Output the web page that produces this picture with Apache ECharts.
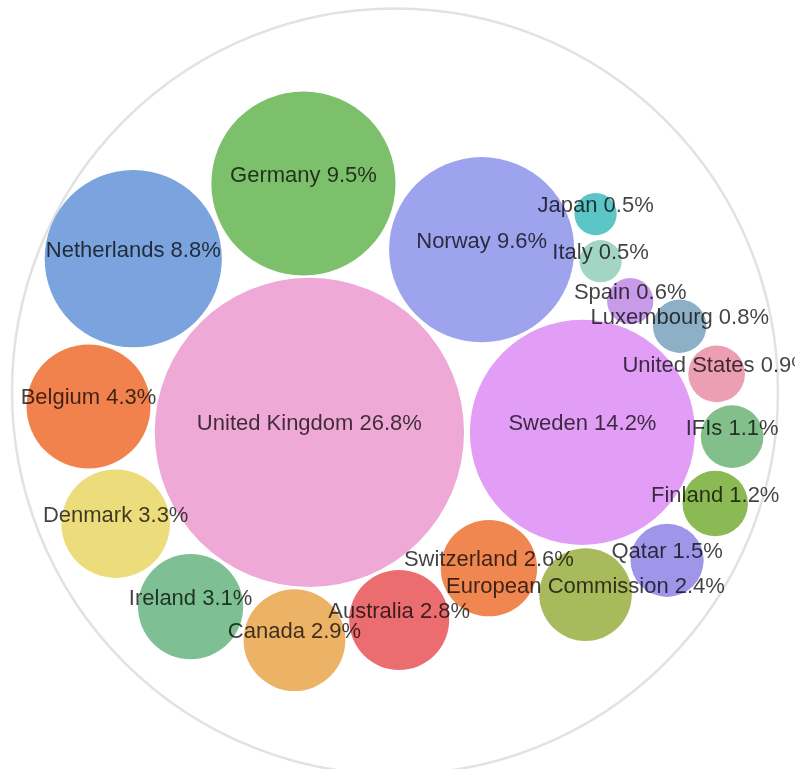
<!DOCTYPE html>
<html>
<head>
<meta charset="utf-8">
<title>Packed bubbles</title>
<script src="https://cdn.jsdelivr.net/npm/echarts@6/dist/echarts.min.js"></script>
<style>
  html, body { margin: 0; padding: 0; background: #fff; }
  #chart { width: 795px; height: 769px; }
</style>
</head>
<body>
<div id="chart"></div>
<script>
// shares in %, already in descending order (pack order)
var countries = ['United Kingdom', 'Sweden', 'Norway', 'Germany', 'Netherlands', 'Belgium',
  'Denmark', 'Ireland', 'Canada', 'Australia', 'Switzerland', 'European Commission',
  'Qatar', 'Finland', 'IFIs', 'United States', 'Luxembourg', 'Spain', 'Italy', 'Japan'];
var shares = [26.8, 14.2, 9.6, 9.5, 8.8, 4.3, 3.3, 3.1, 2.9, 2.8, 2.6, 2.4,
  1.5, 1.2, 1.1, 0.9, 0.8, 0.6, 0.5, 0.5];

var palette = ['#efa9d6', '#e29ef6', '#9da3ec', '#7dc06b', '#7ba3de', '#f2824d',
  '#ecdc7b', '#7ebf93', '#ecb266', '#ec6d70', '#f08650', '#a9ba5c',
  '#9f96ea', '#8bb953', '#82bf8b', '#ec9fb2', '#8eb0c6', '#c79be8', '#a3d5c5', '#5cc5c6'];

// layout box of the enclosing circle (px)
var CX = 395, CY = 397, RPX = 383;
var PADDING = 6;

// ---- old d3 (v3) front-chain circle packing ----
function place(a, b, c) {
  var db = a.r + c.r, dx = b.x - a.x, dy = b.y - a.y;
  if (db && (dx || dy)) {
    var da = b.r + c.r, dc = dx * dx + dy * dy;
    da *= da;
    db *= db;
    var x = 0.5 + (db - da) / (2 * dc);
    var t = 2 * da * (db + dc) - (db - dc) * (db - dc) - da * da;
    var y = Math.sqrt(Math.max(0, t)) / (2 * dc);
    c.x = a.x + x * dx + y * dy;
    c.y = a.y + x * dy - y * dx;
  } else {
    c.x = a.x + db;
    c.y = a.y;
  }
}
function intersects(a, b) {
  var dx = b.x - a.x, dy = b.y - a.y, dr = a.r + b.r;
  return 0.999 * dr * dr > dx * dx + dy * dy;
}
function insert(a, b) {
  var c = a.next;
  a.next = b; b.prev = a; b.next = c; c.prev = b;
}
function splice(a, b) { a.next = b; b.prev = a; }

function packSiblings(nodes) {
  var xMin = Infinity, xMax = -Infinity, yMin = Infinity, yMax = -Infinity;
  function bound(n) {
    xMin = Math.min(n.x - n.r, xMin); xMax = Math.max(n.x + n.r, xMax);
    yMin = Math.min(n.y - n.r, yMin); yMax = Math.max(n.y + n.r, yMax);
  }
  nodes.forEach(function (n) { n.next = n.prev = n; });
  var n = nodes.length, a, b, c, i, j, k;
  a = nodes[0]; a.x = -a.r; a.y = 0; bound(a);
  if (n > 1) {
    b = nodes[1]; b.x = b.r; b.y = 0; bound(b);
    if (n > 2) {
      c = nodes[2];
      place(a, b, c); bound(c);
      insert(a, c); a.prev = c; insert(c, b);
      b = a.next;
      for (i = 3; i < n; i++) {
        place(a, b, c = nodes[i]);
        var isect = 0, s1 = 1, s2 = 1;
        for (j = b.next; j !== b; j = j.next, s1++) {
          if (intersects(j, c)) { isect = 1; break; }
        }
        if (isect == 1) {
          for (k = a.prev; k !== j.prev; k = k.prev, s2++) {
            if (intersects(k, c)) break;
          }
        }
        if (isect) {
          if (s1 < s2 || (s1 == s2 && b.r < a.r)) splice(a, b = j);
          else splice(a = k, b);
          i--;
        } else {
          insert(a, c); b = c; bound(c);
        }
      }
    }
  }
  var cx = (xMin + xMax) / 2, cy = (yMin + yMax) / 2, cr = 0;
  nodes.forEach(function (d) {
    d.x -= cx; d.y -= cy;
    cr = Math.max(cr, d.r + Math.sqrt(d.x * d.x + d.y * d.y));
  });
  return cr;
}

var radii = shares.map(Math.sqrt);
var nodes = radii.map(function (r) { return { r: r }; });
var r0 = packSiblings(nodes);
var dr = PADDING * (2 * r0 / (2 * RPX)) / 2;
nodes = radii.map(function (r) { return { r: r + dr }; });
var rootR = packSiblings(nodes) - dr;
nodes.forEach(function (d) { d.r -= dr; });

var bubbleData = nodes.map(function (d, i) {
  return {
    name: countries[i],
    value: [d.x, d.y, d.r, shares[i]],
    itemStyle: { color: palette[i] }
  };
});

var chart = echarts.init(document.getElementById('chart'));
chart.setOption({
  backgroundColor: '#fff',
  animation: false,
  grid: { left: CX - RPX, top: CY - RPX, width: 2 * RPX, height: 2 * RPX },
  xAxis: { type: 'value', min: -rootR, max: rootR, show: false },
  yAxis: { type: 'value', min: -rootR, max: rootR, show: false, inverse: true },
  series: [{
    type: 'custom',
    silent: true,
    z: 1,
    data: [[0, 0, rootR]],
    renderItem: function (params, api) {
      var p = api.coord([api.value(0), api.value(1)]);
      var r = api.size([api.value(2), api.value(2)])[0];
      return {
        type: 'circle',
        shape: { cx: p[0], cy: p[1], r: r },
        style: { fill: 'none', stroke: '#e2e2e2', lineWidth: 2.5 }
      };
    }
  }, {
    type: 'custom',
    z: 2,
    data: bubbleData,
    renderItem: function (params, api) {
      var p = api.coord([api.value(0), api.value(1)]);
      var r = api.size([api.value(2), api.value(2)])[0];
      var label = countries[params.dataIndex] + ' ' + api.value(3).toFixed(1) + '%';
      return {
        type: 'group',
        children: [{
          type: 'circle',
          shape: { cx: p[0], cy: p[1], r: r },
          style: { fill: api.visual('color') }
        }, {
          type: 'text',
          z2: 10,
          x: p[0],
          y: p[1] - 8,
          style: {
            text: label,
            fill: 'rgba(0,0,0,0.74)',
            font: '22px "Liberation Sans", Arial, sans-serif',
            align: 'center',
            verticalAlign: 'middle'
          }
        }]
      };
    }
  }]
});
</script>
</body>
</html>
